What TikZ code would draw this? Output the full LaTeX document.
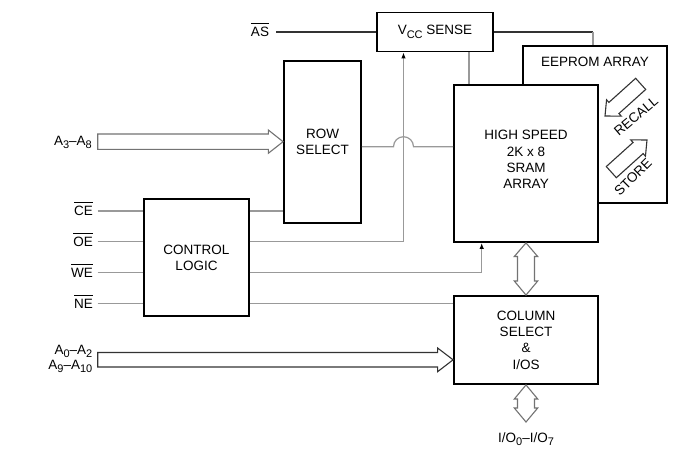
\documentclass[tikz,border=0pt]{standalone}
\usepackage{fontspec}
\setmainfont{Liberation Sans}
\usetikzlibrary{arrows.meta}
\definecolor{sig}{gray}{0.6}
\definecolor{busg}{gray}{0.45}
\definecolor{busd}{gray}{0.2}
\newcommand\fs{\fontsize{13.5}{16.3}\selectfont}
\newcommand\ovl[1]{\leavevmode\vbox{\hrule height 0.9pt \kern 3.5pt \hbox{#1}}}
\newcommand\sbs[1]{\raisebox{-3.5pt}{\fontsize{11}{11}\selectfont #1}}
\begin{document}
\begin{tikzpicture}[x=1pt,y=-1pt,
  box/.style={draw=black, line width=1.8pt, fill=white, inner sep=0pt, align=center, font=\fs},
  lbl/.style={inner sep=0pt, font=\fs, align=center},
  sigline/.style={draw=sig, line width=1.2pt},
  dkline/.style={draw=busd, line width=1.1pt},
  busA/.style={draw=busg, line width=1.1pt, fill=white, line join=miter},
  busB/.style={draw=busd, line width=1.1pt, fill=white, line join=miter},
  tip/.style={-{Latex[length=6pt,width=4.5pt,color=black]}}]
\useasboundingbox (0,0) rectangle (696,458);
\fill[white] (0,0) rectangle (696,458);

% boxes
\node[box, minimum width=77, minimum height=162] (row) at (322.5,142) {ROW\\SELECT};
\node[box, minimum width=144, minimum height=157] (ee) at (595,124.5) {};
\node[lbl] (eet) at (595,61.5) {EEPROM ARRAY};
\node[box, minimum width=144, minimum height=157] (sram) at (526,163.5) {};
\node[lbl] (sramt) at (526,159.5) {HIGH SPEED\\2K x 8\\SRAM\\ARRAY};
\node[box, minimum width=116, minimum height=39] (vcc) at (435,32) {V\sbs{CC} SENSE};
\node[box, minimum width=105, minimum height=117] (ctrl) at (196.5,257.5) {CONTROL\\LOGIC};
\node[box, minimum width=144, minimum height=88] (col) at (526,340) {COLUMN\\SELECT\\\&\\I/OS};

% labels
\node[lbl, anchor=base] (las) at (260,36.8) {\ovl{AS}};
\node[lbl, anchor=base east] (la3) at (92,145) {A\sbs{3}–A\sbs{8}};
\node[lbl, anchor=base east] (lce) at (93,215.8) {\ovl{CE}};
\node[lbl, anchor=base east] (loe) at (93,246.5) {\ovl{OE}};
\node[lbl, anchor=base east] (lwe) at (93,277.5) {\ovl{WE}};
\node[lbl, anchor=base east] (lne) at (93,308.5) {\ovl{NE}};
\node[lbl, anchor=base east] (la0) at (92.5,354) {A\sbs{0}–A\sbs{2}};
\node[lbl, anchor=base east] (la9) at (92.5,369) {A\sbs{9}–A\sbs{10}};
\node[lbl, anchor=base] (lio) at (526,442) {I/O\sbs{0}–I/O\sbs{7}};

% coordinates
\coordinate (asin) at (276,32);
\coordinate (vr) at (593,32);
\coordinate (vs) at (469,0);
\coordinate (cein) at (97.7,211);
\coordinate (oein) at (97.7,241.7);
\coordinate (wein) at (97.7,272.7);
\coordinate (nein) at (97.7,303.7);
\coordinate (oex) at (403.5,241.7);
\coordinate (wex) at (481.7,272.7);
\coordinate (rs) at (0,146.7);
\coordinate (hop1) at (393.5,146.7);
\coordinate (hoptop) at (403.5,136.7);
\coordinate (hop2) at (413.5,146.7);

% signal lines
\draw[dkline] (asin) -- (vcc.west);
\draw[dkline] (vcc.east) -- (vr);
\draw[sigline] (vr) -- (vr |- ee.north);
\draw[sigline] (vcc.south -| vs) -- (sram.north -| vs);
\draw[sigline] (cein) -- (ctrl.west |- cein);
\draw[sigline] (oein) -- (ctrl.west |- oein);
\draw[sigline] (wein) -- (ctrl.west |- wein);
\draw[sigline] (nein) -- (ctrl.west |- nein);
\draw[sigline] (ctrl.east |- cein) -- (row.west |- cein);
\draw[sigline] (ctrl.east |- nein) -- (col.west |- nein);
\draw[sigline, tip] (ctrl.east |- oex) -- (oex) -- (vcc.south -| oex);
\draw[sigline, tip] (ctrl.east |- wex) -- (wex) -- (sram.south -| wex);
\draw[sigline] (row.east |- rs) -- (hop1)
  .. controls (393.5,141.2) and (398,136.7) .. (hoptop)
  .. controls (409,136.7) and (413.5,141.2) .. (hop2) -- (sram.west |- rs);

% buses
\draw[busA] (97.7,134) -- (268.3,134) -- (268.3,130) -- (row.west |- 0,141.7)
  -- (268.3,153.3) -- (268.3,149.3) -- (97.7,149.3) -- cycle;
\draw[busB] (97.7,352.5) -- (437.6,352.5) -- (437.6,348) -- (col.west |- 0,359.8)
  -- (437.6,371.7) -- (437.6,367) -- (97.7,367) -- cycle;

% double arrows
\draw[busA] (sram.south) -- (537.7,256.5) -- (534.5,256.5) -- (534.5,281) -- (537.7,281)
  -- (col.north) -- (514.3,281) -- (517.5,281) -- (517.5,256.5) -- (514.3,256.5) -- cycle;
\draw[busA] (col.south) -- (537.7,399) -- (534.5,399) -- (534.5,408) -- (537.7,408)
  -- (526,422) -- (514.3,408) -- (517.5,408) -- (517.5,399) -- (514.3,399) -- cycle;

% recall / store arrows
\begin{scope}[shift={(605,116)}, rotate=222]
  \draw[busB] (0,0) -- (-12,11) -- (-12,7.5) -- (-48,7.5) -- (-48,-7.5) -- (-12,-7.5) -- (-12,-11) -- cycle;
\end{scope}
\begin{scope}[shift={(647,140)}, rotate=42]
  \draw[busB] (0,0) -- (-12,11) -- (-12,7.5) -- (-48,7.5) -- (-48,-7.5) -- (-12,-7.5) -- (-12,-11) -- cycle;
\end{scope}
\node[lbl, rotate=40] (rec) at (636,116) {RECALL};
\node[lbl, rotate=45] (sto) at (633,177) {STORE};
\end{tikzpicture}
\end{document}
